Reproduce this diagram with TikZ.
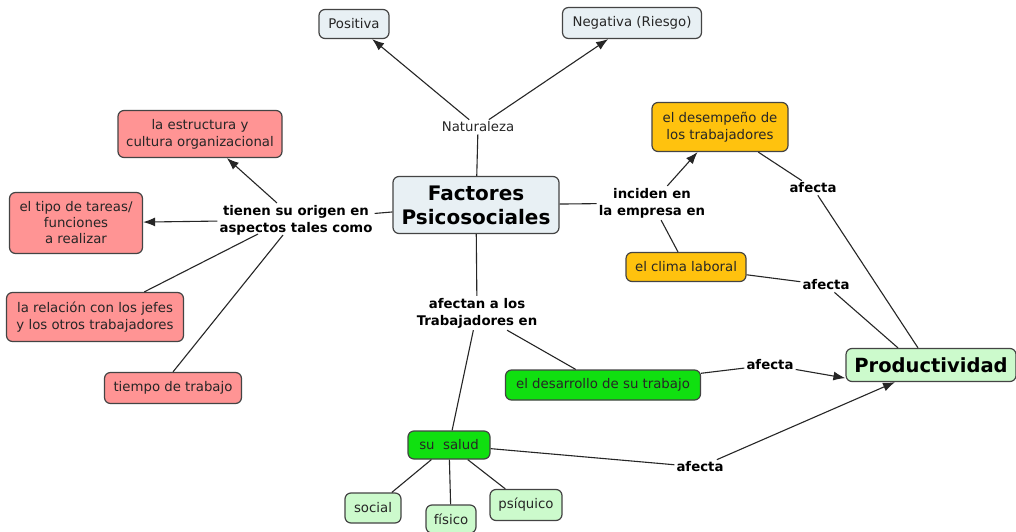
\documentclass[tikz,border=0pt]{standalone}
\usepackage{fontspec}
\setmainfont{DejaVu Sans}
\usetikzlibrary{arrows.meta,calc}
\definecolor{cblue}{HTML}{E8F0F4}
\definecolor{cred}{HTML}{FF9494}
\definecolor{corange}{HTML}{FFC20E}
\definecolor{cgreen}{HTML}{10E010}
\definecolor{clgreen}{HTML}{CCFACC}
\definecolor{cborder}{HTML}{444444}
\definecolor{ctext}{HTML}{262626}
\tikzset{
  box/.style={draw=cborder, line width=1.2pt, rounded corners=6pt, align=center,
    text=ctext, inner sep=1pt, font=\fontsize{13.3}{17}\selectfont},
  lbl/.style={align=center, inner sep=2pt, font=\bfseries\fontsize{13.3}{17}\selectfont, text=black},
  plain/.style={align=center, inner sep=2pt, font=\fontsize{13.3}{17}\selectfont, text=ctext},
  con/.style={draw=black!85, line width=1.1pt},
  arr/.style={con, -{Latex[length=12pt,width=9pt]}},
}
\begin{document}
\begin{tikzpicture}[x=1pt,y=-1pt]
\useasboundingbox[fill=white] (0,0) rectangle (1016,532);
% nodes
\node[box, fill=cblue, minimum width=70, minimum height=29] (pos) at (354,24) {Positiva};
\node[box, fill=cblue, minimum width=139, minimum height=31] (neg) at (632,23) {Negativa (Riesgo)};
\node[plain] (nat) at (478,127) {Naturaleza};
\node[box, fill=cblue, minimum width=166, minimum height=57, font=\bfseries\fontsize{20}{24}\selectfont, text=black] (fac) at (476,205) {Factores\\Psicosociales};
\node[box, fill=cred, minimum width=164, minimum height=47] (est) at (200,134) {la estructura y\\cultura organizacional};
\node[box, fill=cred, minimum width=133, minimum height=61, font=\fontsize{13.3}{16}\selectfont] (tip) at (76,223) {el tipo de tareas/\\funciones\\a realizar};
\node[lbl] (ori) at (296,220) {tienen su origen en\\aspectos tales como};
\node[box, fill=cred, minimum width=177, minimum height=49] (rel) at (95,317) {la relación con los jefes\\y los otros trabajadores};
\node[box, fill=cred, minimum width=137, minimum height=31] (tie) at (173,388) {tiempo de trabajo};
\node[lbl] (inc) at (652,203) {inciden en\\la empresa en};
\node[box, fill=corange, minimum width=136, minimum height=49] (des) at (720,127) {el desempeño de\\los trabajadores};
\node[lbl] (af1) at (813,188) {afecta};
\node[box, fill=corange, minimum width=120, minimum height=29] (cli) at (686,267) {el clima laboral};
\node[lbl] (af2) at (826,285) {afecta};
\node[box, fill=clgreen, minimum width=170, minimum height=33, font=\bfseries\fontsize{19.5}{24}\selectfont, text=black] (pro) at (931,365) {Productividad};
\node[lbl] (aft) at (477,313) {afectan a los\\Trabajadores en};
\node[box, fill=cgreen, minimum width=195, minimum height=30] (dsr) at (603,385) {el desarrollo de su trabajo};
\node[lbl] (af3) at (770,365) {afecta};
\node[box, fill=cgreen, minimum width=82, minimum height=28] (sal) at (449,445) {su~~salud};
\node[lbl] (af4) at (700,467) {afecta};
\node[box, fill=clgreen, minimum width=56, minimum height=30] (soc) at (373,508) {social};
\node[box, fill=clgreen, minimum width=50, minimum height=28] (fis) at (451,519) {físico};
\node[box, fill=clgreen, minimum width=72, minimum height=31] (psi) at (526,505) {psíquico};
% helper end points
\coordinate (o1) at (258,234);
\coordinate (o2) at (283,235);
\coordinate (p1) at ($(pro.north)+(-13,0)$);
\coordinate (p2) at ($(pro.north)+(-33,0)$);
\coordinate (p3) at ($(pro.south west)+(0,-4)$);
\coordinate (p4) at ($(pro.south)+(-36,0)$);
% connectors
\draw[con] (fac) -- (nat);
\draw[arr] (nat) -- (pos);
\draw[arr] (nat) -- (neg);
\draw[con] (fac) -- (ori);
\draw[arr] (ori) -- (est);
\draw[arr] (ori) -- (tip);
\draw[con] (o1) -- (rel);
\draw[con] (o2) -- (tie.north);
\draw[con] (fac) -- (inc);
\draw[arr] (inc) -- (des);
\draw[con] (inc) -- (cli);
\draw[con] (des) -- (af1);
\draw[con] (af1) -- (p1);
\draw[con] (cli) -- (af2);
\draw[con] (af2) -- (p2);
\draw[con] (fac) -- (aft);
\draw[con] (aft) -- (dsr);
\draw[con] (aft) -- (sal);
\draw[con] (dsr) -- (af3);
\draw[arr] (af3) -- (p3);
\draw[con] (sal) -- (af4);
\draw[arr] (af4) -- (p4);
\draw[con] (sal) -- (soc);
\draw[con] (sal) -- (fis);
\draw[con] (sal) -- (psi);
\end{tikzpicture}
\end{document}
